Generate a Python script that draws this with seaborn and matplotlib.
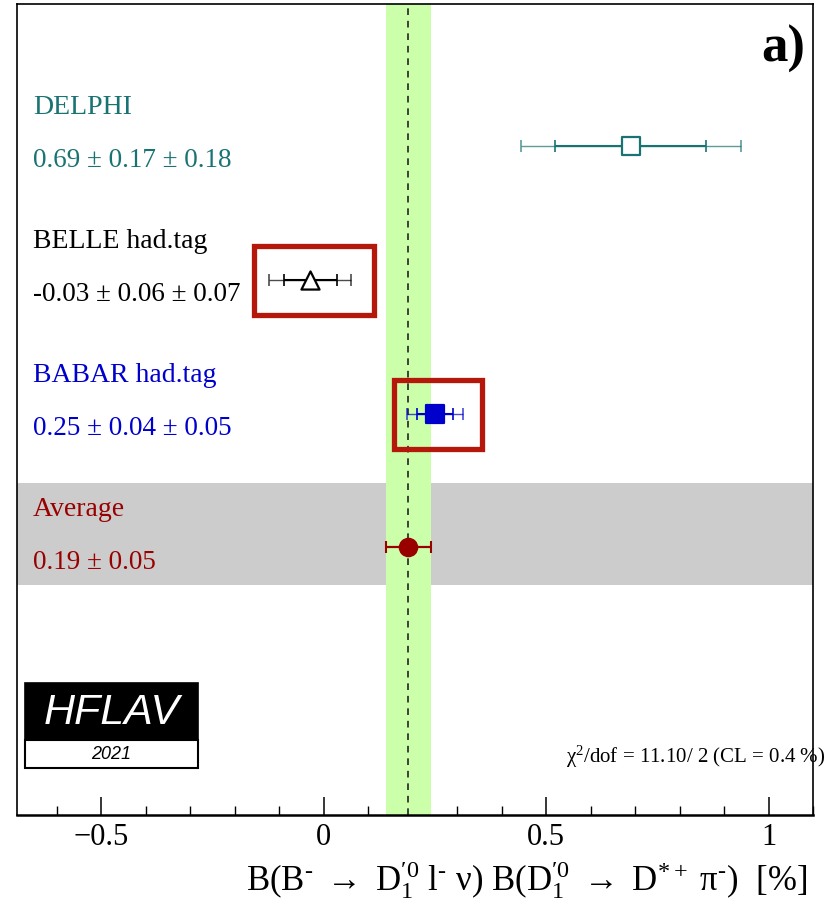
import matplotlib
matplotlib.use("Agg")
import matplotlib.pyplot as plt
import matplotlib.transforms as mtransforms
from matplotlib.patches import Rectangle
from matplotlib.ticker import MultipleLocator
import numpy as np
import pandas as pd
import seaborn as sns

# ---- data ----
experiments = ["DELPHI", "BELLE had.tag", "BABAR had.tag"]
values = [0.69, -0.03, 0.25]
stat_err = [0.17, 0.06, 0.04]
syst_err = [0.18, 0.07, 0.05]
value_labels = ["0.69 ± 0.17 ± 0.18", "-0.03 ± 0.06 ± 0.07", "0.25 ± 0.04 ± 0.05"]
colors = ["#1a7373", "#000000", "#0000cc"]
markers = ["s", "^", "s"]
filled = [False, False, True]
avg_value = 0.19
avg_err = 0.05
avg_label = "0.19 ± 0.05"
avg_color = "#990000"
highlighted = ["BELLE had.tag", "BABAR had.tag"]
chi2_text = "χ$^{2}$/dof = 11.10/ 2 (CL = 0.4 %)"
xticks = [-0.5, 0, 0.5, 1]
xticklabels = ["−0.5", "0", "0.5", "1"]

sns.set_theme(style="white")
plt.rcParams["font.family"] = ["Liberation Serif", "DejaVu Serif"]
plt.rcParams["mathtext.fontset"] = "custom"
plt.rcParams["mathtext.rm"] = "Liberation Serif"
plt.rcParams["mathtext.it"] = "Liberation Serif:italic"
plt.rcParams["mathtext.bf"] = "Liberation Serif:bold"
plt.rcParams["text.color"] = "black"
plt.rcParams["axes.labelcolor"] = "black"
plt.rcParams["xtick.color"] = "black"

fig = plt.figure(figsize=(8.32, 9.06), dpi=100)
ax = fig.add_axes([17/832, 1-815/906, (813-17)/832, (815-4)/906])
ax.set_xlim(-0.69, 1.1)
ax.set_ylim(5.0, -1.06)

# bands
ax.axhspan(2.52, 3.28, color="#cccccc", zorder=0, lw=0)
ax.axvspan(avg_value - avg_err, avg_value + avg_err, color="#ccffaa", zorder=1, lw=0)
ax.axvline(avg_value, color="#222222", ls=(0, (4, 3.5)), lw=1.2, zorder=2)

ypos = list(range(len(experiments)))
df = pd.DataFrame({"exp": experiments, "value": values, "y": ypos})

for i, (v, s, sy, c) in enumerate(zip(values, stat_err, syst_err, colors)):
    tot = np.hypot(s, sy)
    ax.errorbar(v, i, xerr=tot, fmt="none", ecolor=c, elinewidth=1.0, capsize=4,
                capthick=1.2, alpha=0.7, zorder=3)
    ax.errorbar(v, i, xerr=s, fmt="none", ecolor=c, elinewidth=1.5, capsize=4,
                capthick=1.2, zorder=4)

for i, row in df.iterrows():
    sns.scatterplot(x=[row["value"]], y=[row["y"]], ax=ax, marker=markers[i], s=170,
                    facecolor=(colors[i] if filled[i] else "white"),
                    edgecolor=colors[i], linewidth=1.6, zorder=5, legend=False)

# average
ax.errorbar(avg_value, 3, xerr=avg_err, fmt="none", ecolor=avg_color, elinewidth=1.6,
            capsize=4, capthick=1.5, zorder=4)
sns.scatterplot(x=[avg_value], y=[3], ax=ax, marker="o", s=170, color=avg_color,
                edgecolor=avg_color, zorder=5, legend=False)

# text labels
trans = mtransforms.blended_transform_factory(ax.transAxes, ax.transData)
for i, (name, vl, c) in enumerate(zip(experiments, value_labels, colors)):
    ax.text(0.02, i - 0.285, name, transform=trans, color=c, fontsize=20, va="center", ha="left")
    ax.text(0.02, i + 0.11, vl, transform=trans, color=c, fontsize=19.5, va="center", ha="left")
ax.text(0.02, 3 - 0.285, "Average", transform=trans, color=avg_color, fontsize=20, va="center")
ax.text(0.02, 3 + 0.11, avg_label, transform=trans, color=avg_color, fontsize=19.5, va="center")

# highlight boxes
for name in highlighted:
    i = experiments.index(name)
    tot = np.hypot(stat_err[i], syst_err[i])
    x0 = values[i] - tot - 0.035 if i == 1 else values[i] - tot - 0.028
    x1 = values[i] + tot + 0.05 if i == 1 else values[i] + tot + 0.042
    y0, y1 = i - 0.25, i + 0.265
    ax.add_patch(Rectangle((x0, y0), x1 - x0, y1 - y0, fill=False, edgecolor="#b5170b",
                           lw=3.8, zorder=6))

ax.text(0.99, 0.945, "a)", transform=ax.transAxes, fontsize=38, fontweight="bold",
        ha="right", va="center")

# chi2
ax.text(1.016, 0.072, chi2_text, transform=ax.transAxes, fontsize=15, ha="right", va="center")

# HFLAV logo
ax.add_patch(Rectangle((8/796, 1-(740-4)/811), 173/796, 57/811, transform=ax.transAxes,
                       facecolor="black", edgecolor="black", lw=1.2, zorder=7))
ax.add_patch(Rectangle((8/796, 1-(768-4)/811), 173/796, 28/811, transform=ax.transAxes,
                       facecolor="white", edgecolor="black", lw=1.5, zorder=7))
ax.text((8+86.5)/796, 1-(713-4)/811, "HFLAV", transform=ax.transAxes, color="white",
        fontsize=31, style="italic", family="Liberation Sans", ha="center", va="center", zorder=8)
ax.text((8+86.5)/796, 1-(754-4)/811, "2021", transform=ax.transAxes, color="black",
        fontsize=13, style="italic", family="Liberation Sans", ha="center", va="center", zorder=8)

# axes styling
ax.set_yticks([])
ax.set_xticks(xticks)
ax.set_xticklabels(xticklabels, fontsize=22)
ax.xaxis.set_minor_locator(MultipleLocator(0.1))
ax.tick_params(axis="x", which="major", direction="in", length=13, width=1.1, pad=6,
               bottom=True, top=False, colors="black")
ax.tick_params(axis="x", which="minor", direction="in", length=6.5, width=1.0,
               bottom=True, top=False)
for sp in ["left", "right", "top"]:
    ax.spines[sp].set_color("black")
    ax.spines[sp].set_linewidth(1.2)
ax.spines["bottom"].set_color("black")
ax.spines["bottom"].set_linewidth(1.8)
ax.set_xlabel("B(B$^{\\text{-}}$ $\\rightarrow$ D$_{1}^{\\prime 0}$ l$^{\\text{-}}$ ν) "
              "B(D$_{1}^{\\prime 0}$ $\\rightarrow$ D$^{*+}$ π$^{\\text{-}}$)  [%]",
              fontsize=25, loc="right")
ax.xaxis.set_label_coords((807-17)/796, -44/811)
ax.set_ylabel("")

fig.savefig("out.png", dpi=100)
